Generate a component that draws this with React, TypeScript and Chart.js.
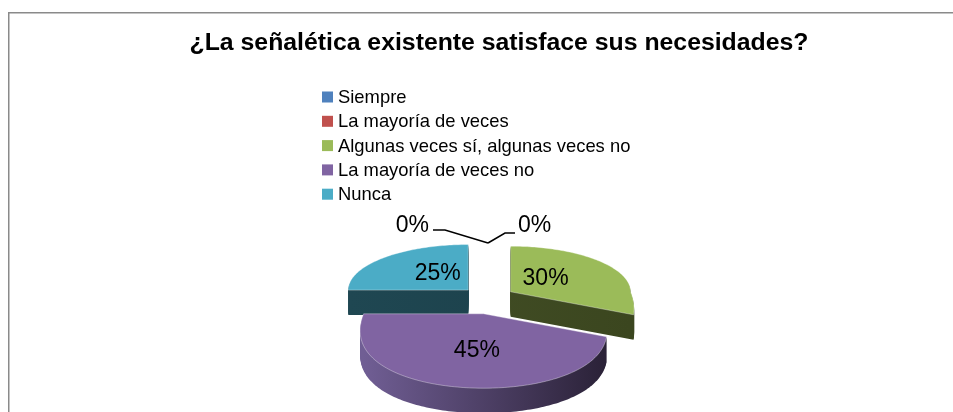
import React, { useEffect, useRef } from "react";
import { Chart, registerables } from "chart.js";

Chart.register(...registerables);

// ---- data ----
const TITLE = "¿La señalética existente satisface sus necesidades?";
const CATEGORIES = [
  "Siempre",
  "La mayoría de veces",
  "Algunas veces sí, algunas veces no",
  "La mayoría de veces no",
  "Nunca",
];
const VALUES = [0, 0, 30, 45, 25];
const TOP_COLORS = ["#4F81BD", "#C0504D", "#9BBB59", "#8064A2", "#4BACC6"];
const SIDE_COLORS = [
  ["#2d4a6e", "#22385a"],
  ["#6e2d2b", "#58201f"],
  ["#434f26", "#3b461f"],
  ["#705e94", "#2b2238"],
  ["#1f4752", "#1c404a"],
];

// ---- styling ----
const FONT = "'Liberation Sans', Arial, sans-serif";
const BACK_RY = 0.38; // vertical radius factor of back half (perspective)
const FRONT_RY = 0.62; // vertical radius factor of front half
const FRONT_WIDEN = 0.25; // horizontal widening toward the viewer
const EXPLODE = 0.233; // explosion distance relative to radius
const DEPTH = 25;

function project(cx: number, cy: number, R: number, a: number, f = 1) {
  const ux = Math.cos(a);
  const uy = Math.sin(a);
  const wx = uy > 0 ? 1 + FRONT_WIDEN * uy : 1;
  return {
    x: cx + R * f * ux * wx,
    y: cy + R * f * (uy < 0 ? BACK_RY : FRONT_RY) * uy,
  };
}

function slicePath(
  ctx: CanvasRenderingContext2D,
  cx: number,
  cy: number,
  R: number,
  a0: number,
  a1: number
) {
  ctx.beginPath();
  ctx.moveTo(cx, cy);
  const n = Math.max(2, Math.ceil((a1 - a0) / 0.02));
  for (let k = 0; k <= n; k++) {
    const p = project(cx, cy, R, a0 + ((a1 - a0) * k) / n);
    ctx.lineTo(p.x, p.y);
  }
  ctx.closePath();
}

function sliceGeometry(chart: any) {
  const meta = chart.getDatasetMeta(0);
  return (meta.data as any[]).map((arc: any, i: number) => {
    const p = arc.getProps(["x", "y", "startAngle", "endAngle", "outerRadius"]);
    const R = p.outerRadius;
    const mid = (p.startAngle + p.endAngle) / 2;
    const e = R * EXPLODE;
    return {
      i,
      R,
      a0: p.startAngle,
      a1: p.endAngle,
      mid,
      baseX: p.x,
      baseY: p.y,
      cx: p.x + Math.cos(mid) * e,
      cy: p.y + Math.sin(mid) * e * 0.5,
      empty: p.endAngle - p.startAngle <= 0,
    };
  });
}

const pie3d = {
  id: "pie3d",
  beforeDraw(chart: any) {
    const ctx: CanvasRenderingContext2D = chart.ctx;
    ctx.save();
    ctx.fillStyle = "#ffffff";
    ctx.fillRect(0, 0, chart.width, chart.height);
    ctx.strokeStyle = "#8a8a8a";
    ctx.lineWidth = 1.5;
    ctx.beginPath();
    ctx.moveTo(8.75, chart.height);
    ctx.lineTo(8.75, 12.75);
    ctx.lineTo(chart.width, 12.75);
    ctx.stroke();
    ctx.restore();
  },
  beforeDatasetsDraw(chart: any) {
    const ctx: CanvasRenderingContext2D = chart.ctx;
    const geo = sliceGeometry(chart).filter((g) => !g.empty);
    // sides
    for (const g of geo) {
      const grad = ctx.createLinearGradient(g.cx - g.R, 0, g.cx + g.R, 0);
      const [c0, c1] = SIDE_COLORS[g.i];
      grad.addColorStop(0, c0);
      grad.addColorStop(1, c1);
      ctx.save();
      ctx.fillStyle = grad;
      for (let d = DEPTH; d >= 1; d--) {
        slicePath(ctx, g.cx, g.cy + d, g.R, g.a0, g.a1);
        ctx.fill();
      }
      ctx.restore();
    }
    // tops
    for (const g of geo) {
      ctx.save();
      ctx.fillStyle = TOP_COLORS[g.i];
      slicePath(ctx, g.cx, g.cy, g.R, g.a0, g.a1);
      ctx.fill();
      ctx.strokeStyle = "rgba(255,255,255,0.35)";
      ctx.lineWidth = 1;
      ctx.stroke();
      ctx.restore();
    }
    return false;
  },
  afterDraw(chart: any) {
    const ctx: CanvasRenderingContext2D = chart.ctx;
    const values = chart.data.datasets[0].data as number[];
    const labels = chart.data.labels as string[];
    const total = values.reduce((s, v) => s + v, 0);
    ctx.save();
    // title
    ctx.fillStyle = "#000000";
    ctx.font = `bold 24.8px ${FONT}`;
    ctx.textAlign = "center";
    ctx.textBaseline = "alphabetic";
    ctx.fillText(TITLE, 499, 49.5);

    // legend
    ctx.font = `18.4px ${FONT}`;
    ctx.textAlign = "left";
    ctx.textBaseline = "middle";
    labels.forEach((lab, i) => {
      const yc = 97 + i * 24.3;
      ctx.fillStyle = TOP_COLORS[i];
      ctx.fillRect(322, yc - 5.5, 11, 11);
      ctx.fillStyle = "#000000";
      ctx.fillText(lab, 338, yc + 1);
    });

    // data labels
    const geo = sliceGeometry(chart);
    ctx.font = `23px ${FONT}`;
    ctx.textBaseline = "middle";
    let zeroCount = 0;
    for (const g of geo) {
      const pct = Math.round((values[g.i] / total) * 100) + "%";
      if (!g.empty) {
        const uy = Math.sin(g.mid);
        const x = g.cx + g.R * 0.36 * Math.cos(g.mid);
        const y = g.cy + g.R * 0.5 * (uy < 0 ? BACK_RY : FRONT_RY) * uy;
        ctx.textAlign = "center";
        ctx.fillStyle = "#000000";
        ctx.fillText(pct, x, y);
      } else {
        const ax = g.baseX + g.R * Math.cos(g.a0);
        const ay = g.baseY + g.R * BACK_RY * 1.25 * Math.sin(g.a0);
        ctx.strokeStyle = "#000000";
        ctx.lineWidth = 1.5;
        ctx.beginPath();
        if (zeroCount % 2 === 0) {
          ctx.moveTo(ax, ay);
          ctx.lineTo(ax - 43, ay - 13);
          ctx.lineTo(ax - 55, ay - 13);
          ctx.stroke();
          ctx.textAlign = "right";
          ctx.fillText(pct, ax - 59, ay - 17);
        } else {
          ctx.moveTo(ax, ay);
          ctx.lineTo(ax + 17, ay - 10);
          ctx.lineTo(ax + 27, ay - 10);
          ctx.stroke();
          ctx.textAlign = "left";
          ctx.fillText(pct, ax + 30, ay - 17);
        }
        zeroCount++;
      }
    }
    ctx.restore();
  },
};

export default function App() {
  const ref = useRef<HTMLCanvasElement | null>(null);
  useEffect(() => {
    if (!ref.current) return;
    const chart = new Chart(ref.current, {
      type: "pie",
      data: {
        labels: CATEGORIES,
        datasets: [{ data: VALUES, backgroundColor: TOP_COLORS, borderWidth: 0 }],
      },
      options: {
        responsive: false,
        animation: false,
        layout: { padding: { left: 368, right: 345, top: 180, bottom: 20 } },
        plugins: {
          legend: { display: false },
          title: { display: false },
          tooltip: { enabled: false },
        },
      },
      plugins: [pie3d],
    } as any);
    return () => chart.destroy();
  }, []);
  return (
    <div
      style={{
        position: "absolute",
        left: 0,
        top: 0,
        width: 953,
        height: 412,
        overflow: "hidden",
        background: "#ffffff",
      }}
    >
      <canvas ref={ref} width={953} height={440} style={{ display: "block" }} />
    </div>
  );
}
